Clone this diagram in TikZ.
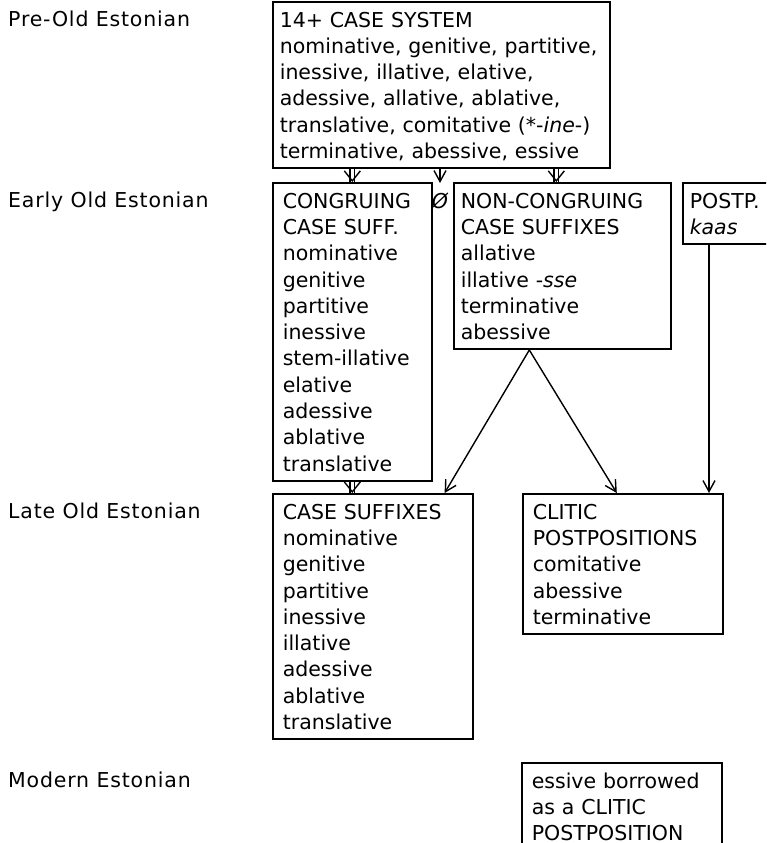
\documentclass[tikz,border=0pt]{standalone}
\usepackage{fontspec}
\setmainfont{DejaVu Sans}
\newfontfamily\periodfont[LetterSpace=4]{DejaVu Sans}
\usetikzlibrary{calc,arrows.meta,decorations.markings}
\newcommand{\casefont}{\fontsize{20.5}{26.3}\selectfont\hyphenpenalty=10000 }
\newcommand{\ls}{\rule[-5.3pt]{0pt}{26.3pt}}
\tikzstyle{period} = [anchor=base west, inner sep=0pt, font=\periodfont\casefont]
\tikzstyle{casebox} = [rectangle, draw=black, line width=1.6pt, align=left, anchor=north west, inner xsep=10pt, inner ysep=4.3pt, font=\casefont, execute at begin node=\ls, execute at end node=\ls]
\tikzstyle{arrow} = [line width=1.4pt,-{Straight Barb[length=11pt,width=12pt]}]
\tikzstyle{arrow2} = [line width=1.3pt,double,double distance=3.3pt,
  decoration={markings,mark=at position 1 with {\pgfsetinnerlinewidth{0pt}%
    \arrow[line width=1.4pt]{Straight Barb[length=10pt,width=16pt]}}},
  postaction={decorate}]

\begin{document}
\begin{tikzpicture}[x=1pt,y=-1pt]
\path[use as bounding box,clip] (0,0) rectangle (766,843);
% periods
\node (pre) [period] at (8,26.3) {Pre-Old Estonian};
\node (early) [period] at (8,207.3) {Early Old Estonian};
\node (late) [period] at (8,518.3) {Late Old Estonian};
\node (modern) [period] at (8,787.3) {Modern Estonian};
% boxes
\node (sys) [casebox,inner xsep=7pt,text width=323pt] at (272,1) {14+ CASE SYSTEM\\
  nominative, genitive, partitive,\\ inessive, illative, elative,\\
  adessive, allative, ablative,\\ translative, comitative (*-\textit{ine}-)\\
  terminative, abessive, essive};
\node (cong) [casebox,text width=139pt] at (272,182) {CONGRUING\\ CASE SUFF.\\
  nominative\\ genitive\\ partitive\\ inessive\\ stem-illative\\ elative\\
  adessive\\ ablative\\ translative};
\node (zero) [anchor=north,inner sep=0pt,font=\casefont\itshape] at (440,193) {Ø};
\node (noncong) [casebox,inner xsep=7pt,text width=203pt] at (453,182) {NON-CONGRUING\\
  CASE SUFFIXES\\ allative\\ illative -\textit{sse}\\ terminative\\ abessive};
\node (postp) [casebox,inner xsep=7pt,text width=90pt] at (682,182) {POSTP.\\ \textit{kaas}};
\node (casesuff) [casebox,text width=180pt] at (272,493) {CASE SUFFIXES\\
  nominative\\ genitive\\ partitive\\ inessive\\ illative\\ adessive\\
  ablative\\ translative};
\node (clitic) [casebox,text width=180pt] at (522,493) {CLITIC\\ POSTPOSITIONS\\
  comitative\\ abessive\\ terminative};
\node (essive) [casebox,text width=180pt] at (521,762) {essive borrowed\\
  as a CLITIC\\ POSTPOSITION};
% connectors
\coordinate (fork) at ([xshift=-33pt]noncong.south);
\coordinate (kaas) at ([xshift=27pt]postp.south west);
\draw [arrow2] (sys.south -| cong.north) -- (cong.north);
\draw [arrow] (sys.south -| zero.north) -- ([yshift=10pt]zero.north);
\draw [arrow2] ([xshift=-6pt]noncong.north |- sys.south) -- ([xshift=-6pt]noncong.north);
\draw [arrow2] (cong.south) -- (cong.south |- casesuff.north);
\draw [arrow] (fork) -- ([xshift=-29pt]casesuff.north east);
\draw [arrow] (fork) -- ([xshift=-6pt]clitic.north);
\draw [arrow] (kaas) -- (kaas |- clitic.north);
\end{tikzpicture}
\end{document}
